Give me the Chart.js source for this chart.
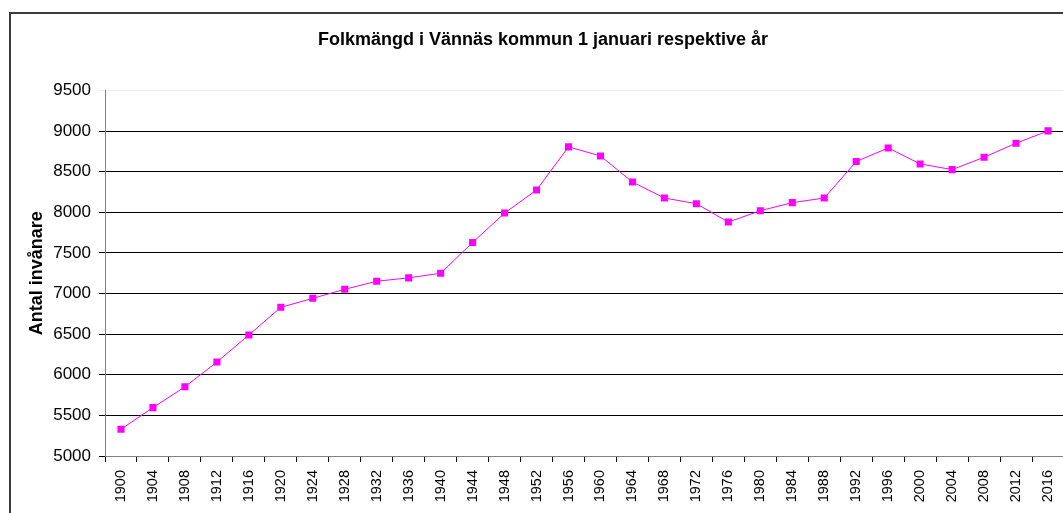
<!DOCTYPE html>
<html>
<head>
<meta charset="utf-8">
<script src="https://cdn.jsdelivr.net/npm/chart.js@4.4.1/dist/chart.umd.min.js"></script>
<style>
  html, body { margin: 0; padding: 0; background: #fff; overflow: hidden; }
  #wrap { position: relative; width: 1063px; height: 513px; overflow: hidden; }
  #frame { position: absolute; left: 9px; top: 12px; width: 1070px; height: 520px;
           border: 2px solid #3c3c3c; pointer-events: none; }
  canvas { position: absolute; left: 0; top: 0; }
</style>
</head>
<body>
<div id="wrap">
  <canvas id="chart" width="1077" height="513" style="width:1077px;height:513px"></canvas>
  <div id="frame"></div>
</div>
<script>
// ── Data ─────────────────────────────────────────
const years = ['1900', '1904', '1908', '1912', '1916', '1920', '1924', '1928', '1932', '1936',
               '1940', '1944', '1948', '1952', '1956', '1960', '1964', '1968', '1972', '1976',
               '1980', '1984', '1988', '1992', '1996', '2000', '2004', '2008', '2012', '2016'];
const population = [5330, 5596, 5852, 6157, 6490, 6831, 6942, 7053, 7152, 7194,
                    7251, 7630, 7992, 8276, 8807, 8695, 8374, 8177, 8107, 7881,
                    8021, 8120, 8177, 8626, 8794, 8597, 8527, 8679, 8852, 9004];
const yMin = 5000, yMax = 9500, yStep = 500;

const FONT = "'Liberation Sans', Arial, sans-serif";
Chart.defaults.font.family = FONT;
Chart.defaults.color = '#000';

new Chart(document.getElementById('chart'), {
  type: 'line',
  data: {
    labels: years,
    datasets: [{
      label: 'Folkmängd',
      data: population,
      borderColor: '#ff00ff',
      backgroundColor: '#ff00ff',
      borderWidth: 1,
      pointStyle: 'rect',
      pointRadius: 5,
      pointBorderWidth: 0,
      tension: 0,
      fill: false,
    }],
  },
  options: {
    responsive: false,
    animation: false,
    layout: { padding: { left: 22, right: 13, top: 0, bottom: 0 } },
    plugins: {
      legend: { display: false },
      tooltip: { enabled: false },
      title: {
        display: true,
        text: 'Folkmängd i Vännäs kommun 1 januari respektive år',
        font: { size: 18, weight: 'bold', lineHeight: 1.2 },
        color: '#000',
        padding: { top: 29, bottom: 40 },
      },
    },
    scales: {
      x: {
        offset: true,
        grid: { offset: true, drawOnChartArea: false, drawTicks: true, tickLength: 6, color: '#000' },
        border: { color: '#808080', width: 1 },
        ticks: { autoSkip: false, maxRotation: 90, minRotation: 90, padding: 8,
                 font: { size: 14.5 }, color: '#000' },
        afterFit: s => { s.height = 57; },
      },
      y: {
        min: yMin,
        max: yMax,
        ticks: { stepSize: yStep, padding: 8, font: { size: 17 }, color: '#000',
                 callback: v => String(v) },
        grid: {
          tickLength: 6,
          color: ctx => ctx.tick && ctx.tick.value === yMax ? '#eeeeee' : '#000',
        },
        border: { color: '#808080', width: 1 },
        title: {
          display: true,
          text: 'Antal invånare',
          font: { size: 18, weight: 'bold', lineHeight: 1.2 },
          color: '#000',
          padding: { top: 4, bottom: 0 },
        },
        afterFit: s => { s.width = 83; },
      },
    },
  },
});
</script>
</body>
</html>
